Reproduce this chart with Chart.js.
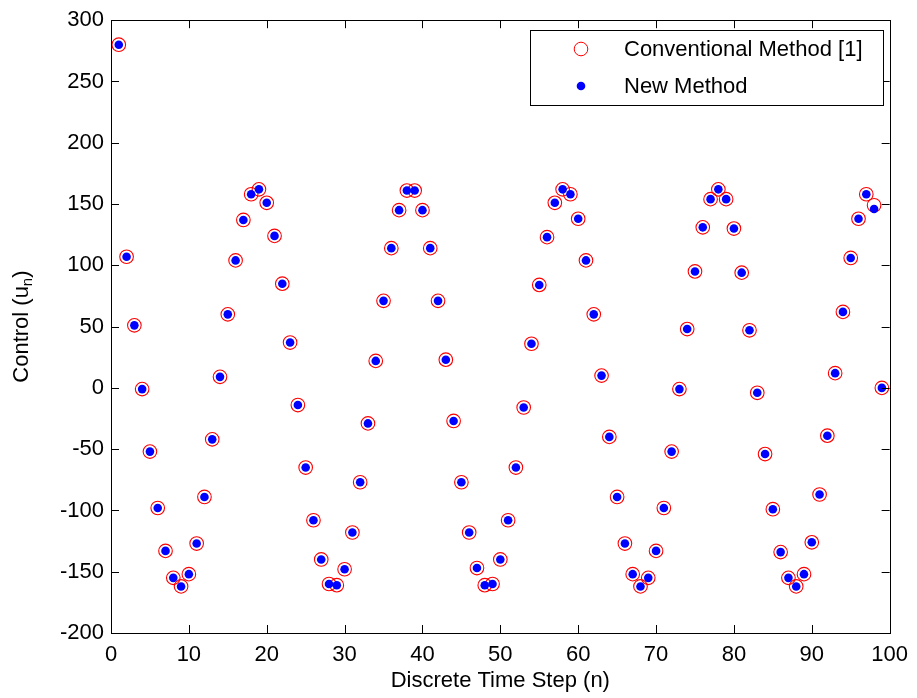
<!DOCTYPE html>
<html>
<head>
<meta charset="utf-8">
<script src="https://cdn.jsdelivr.net/npm/chart.js@4.4.1/dist/chart.umd.min.js"></script>
<style>
  html, body { margin: 0; padding: 0; background: #fff; }
  #wrap { width: 917px; height: 698px; position: relative; }
</style>
</head>
<body>
<div id="wrap"><canvas id="chart"></canvas></div>
<script>
// ---------------------------------------------------------
// Data
// ---------------------------------------------------------
const steps = Array.from({ length: 99 }, (_, i) => i + 1);

const conventional = [
  280, 107, 51, -1, -52, -98, -133, -155, -162, -152,
  -127, -89, -42, 9, 60, 104, 137, 158, 162, 151,
  124, 85, 37, -14, -65, -108, -140, -160, -161, -148,
  -118, -77, -29, 22, 71, 114, 145, 161, 161, 145,
  114, 71, 23, -27, -77, -118, -147, -161, -160, -140,
  -108, -65, -16, 36, 84, 123, 151, 162, 158, 138,
  104, 60, 10, -40, -89, -127, -152, -162, -155, -133,
  -98, -52, -1, 48, 95, 131, 154, 162, 154, 130,
  94, 47, -4, -54, -99, -134, -155, -162, -152, -126,
  -87, -39, 12, 62, 106, 138, 158, 149, 0,
];

const newMethod = [
  280, 107, 51, -1, -52, -98, -133, -155, -162, -152,
  -127, -89, -42, 9, 60, 104, 137, 158, 162, 151,
  124, 85, 37, -14, -65, -108, -140, -160, -161, -148,
  -118, -77, -29, 22, 71, 114, 145, 161, 161, 145,
  114, 71, 23, -27, -77, -118, -147, -161, -160, -140,
  -108, -65, -16, 36, 84, 123, 151, 162, 158, 138,
  104, 60, 10, -40, -89, -127, -152, -162, -155, -133,
  -98, -52, -1, 48, 95, 131, 154, 162, 154, 130,
  94, 47, -4, -54, -99, -134, -155, -162, -152, -126,
  -87, -39, 12, 62, 106, 138, 158, 146, 0,
];

const seriesLabels = ['Conventional Method [1]', 'New Method'];

const FONT = "'Liberation Sans', Arial, Helvetica, sans-serif";
const RED = '#ff0000';
const BLUE = '#0000ff';

// ---------------------------------------------------------
// Plugin: MATLAB-style box with inward ticks, axis titles, legend
// ---------------------------------------------------------
const matlabFrame = {
  id: 'matlabFrame',
  afterDraw(chart) {
    const { ctx, chartArea: a, scales } = chart;
    const tl = 8;
    ctx.save();
    ctx.strokeStyle = '#000';
    ctx.lineWidth = 1;

    // box
    ctx.strokeRect(Math.round(a.left) + 0.5, Math.round(a.top) + 0.5,
      Math.round(a.right - a.left), Math.round(a.bottom - a.top));

    // inward ticks
    ctx.beginPath();
    scales.x.ticks.forEach(t => {
      const x = Math.round(scales.x.getPixelForValue(t.value)) + 0.5;
      ctx.moveTo(x, a.bottom); ctx.lineTo(x, a.bottom - tl);
      ctx.moveTo(x, a.top); ctx.lineTo(x, a.top + tl);
    });
    scales.y.ticks.forEach(t => {
      const y = Math.round(scales.y.getPixelForValue(t.value)) + 0.5;
      ctx.moveTo(a.left, y); ctx.lineTo(a.left + tl, y);
      ctx.moveTo(a.right, y); ctx.lineTo(a.right - tl, y);
    });
    ctx.stroke();

    // axis titles
    ctx.fillStyle = '#000';
    ctx.font = '22px ' + FONT;
    ctx.textAlign = 'center';
    ctx.textBaseline = 'middle';
    ctx.fillText('Discrete Time Step (n)', (a.left + a.right) / 2, 681);

    ctx.save();
    ctx.translate(22, (a.top + a.bottom) / 2);
    ctx.rotate(-Math.PI / 2);
    ctx.textBaseline = 'middle';
    ctx.textAlign = 'left';
    const p1 = 'Control (u';
    ctx.font = '22px ' + FONT;
    const w1 = ctx.measureText(p1).width;
    ctx.font = '15px ' + FONT;
    const w2 = ctx.measureText('n').width;
    ctx.font = '22px ' + FONT;
    const w3 = ctx.measureText(')').width;
    let x0 = -(w1 + w2 + w3) / 2;
    ctx.fillText(p1, x0, 0);
    ctx.font = '15px ' + FONT;
    ctx.fillText('n', x0 + w1, 6);
    ctx.font = '22px ' + FONT;
    ctx.fillText(')', x0 + w1 + w2, 0);
    ctx.restore();

    // legend
    const lx = 530, ly = 30, lw = 353, lh = 75;
    ctx.fillStyle = '#fff';
    ctx.fillRect(lx, ly, lw, lh);
    ctx.strokeStyle = '#000';
    ctx.strokeRect(lx + 0.5, ly + 0.5, lw, lh);

    ctx.strokeStyle = RED;
    ctx.beginPath();
    ctx.arc(581, 49, 6.8, 0, Math.PI * 2);
    ctx.stroke();
    ctx.fillStyle = BLUE;
    ctx.beginPath();
    ctx.arc(581, 86, 4.3, 0, Math.PI * 2);
    ctx.fill();

    ctx.fillStyle = '#000';
    ctx.font = '22px ' + FONT;
    ctx.textAlign = 'left';
    ctx.textBaseline = 'middle';
    ctx.fillText(seriesLabels[0], 624, 50);
    ctx.fillText(seriesLabels[1], 624, 87);
    ctx.restore();
  },
};

// ---------------------------------------------------------
// Chart
// ---------------------------------------------------------
const ctx = document.getElementById('chart').getContext('2d');

new Chart(ctx, {
  type: 'scatter',
  data: {
    datasets: [
      {
        label: seriesLabels[0],
        data: steps.map((n, i) => ({ x: n, y: conventional[i] })),
        pointStyle: 'circle',
        pointRadius: 6.8,
        borderColor: RED,
        backgroundColor: 'rgba(0,0,0,0)',
        borderWidth: 1.1,
        order: 2,
      },
      {
        label: seriesLabels[1],
        data: steps.map((n, i) => ({ x: n, y: newMethod[i] })),
        pointStyle: 'circle',
        pointRadius: 4.3,
        borderWidth: 0,
        backgroundColor: BLUE,
        borderColor: BLUE,
        order: 1,
      },
    ],
  },
  options: {
    responsive: true,
    maintainAspectRatio: false,
    animation: false,
    layout: { padding: { top: 16, right: 23, left: 0, bottom: 0 } },
    plugins: {
      legend: { display: false },
      tooltip: { enabled: false },
    },
    scales: {
      x: {
        type: 'linear',
        min: 0,
        max: 100,
        ticks: {
          stepSize: 10,
          color: '#000',
          padding: 9,
          font: { family: FONT, size: 22 },
          maxRotation: 0,
        },
        grid: { display: false, drawTicks: false },
        border: { display: false },
        afterFit(scale) { scale.height = 65; },
      },
      y: {
        type: 'linear',
        min: -200,
        max: 300,
        ticks: {
          stepSize: 50,
          color: '#000',
          padding: 7,
          font: { family: FONT, size: 22 },
        },
        grid: { display: false, drawTicks: false },
        border: { display: false },
        afterFit(scale) { scale.width = 111; },
      },
    },
  },
  plugins: [matlabFrame],
});
</script>
</body>
</html>
